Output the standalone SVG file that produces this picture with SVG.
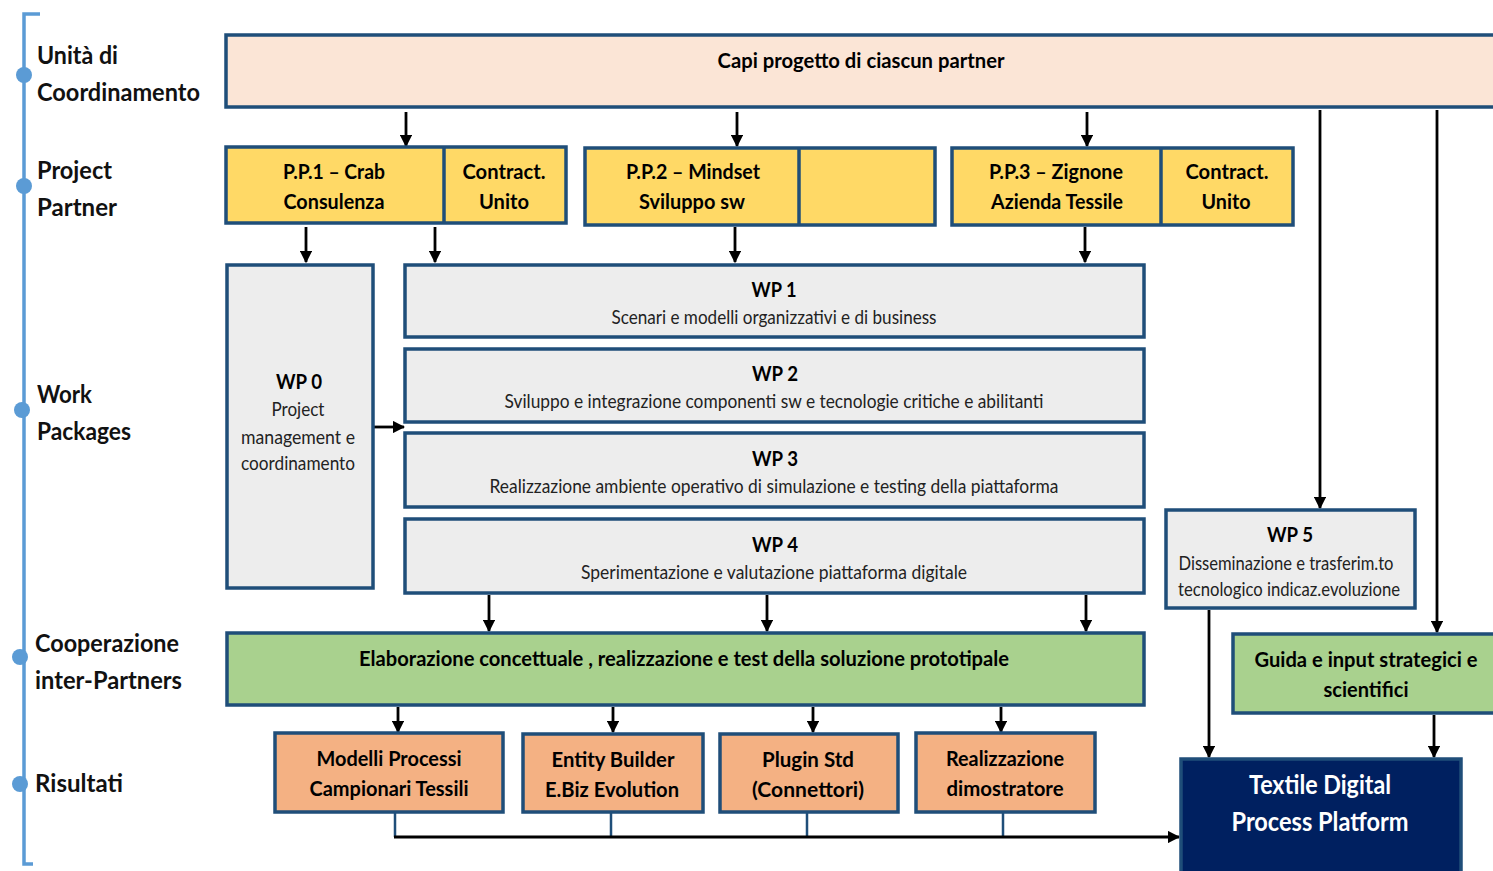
<svg xmlns="http://www.w3.org/2000/svg" width="1493" height="871" viewBox="0 0 1493 871">
<style>
text{font-family:Lato,"Open Sans","Liberation Sans",sans-serif;fill:#000;dominant-baseline:central;text-anchor:middle}
.side{font-size:25px;font-weight:700;text-anchor:start;fill:#111}
.b{font-size:21px;font-weight:700}
.s{font-size:19px;font-weight:400;fill:#222}
.box{stroke:#1f4e79;stroke-width:3.5}
.peach{fill:#fbe5d6}.yel{fill:#ffd966}.grey{fill:#ededed}.green{fill:#a9d18e}.orange{fill:#f4b183}.navy{fill:#002060}
.ar{stroke:#000;stroke-width:2.8;fill:none;marker-end:url(#ah)}
.bl{stroke:#1f4e79;stroke-width:2.5;fill:none}
</style>
<defs>
<marker id="ah" viewBox="0 0 10 10" refX="9" refY="5" markerWidth="4.4" markerHeight="4.4" orient="auto" markerUnits="strokeWidth">
<path d="M0,0 L10,5 L0,10 z" fill="#000"/>
</marker>
</defs>
<rect width="1493" height="871" fill="#fff"/>

<g id="sidebar">
<path d="M40,14 H24 V864 H33" stroke="#5b9bd5" stroke-width="3.5" fill="none"/>
<circle cx="24" cy="75" r="8" fill="#5b9bd5"/>
<circle cx="24" cy="186" r="8" fill="#5b9bd5"/>
<circle cx="22" cy="410" r="8" fill="#5b9bd5"/>
<circle cx="20" cy="657" r="8" fill="#5b9bd5"/>
<circle cx="20" cy="784" r="8" fill="#5b9bd5"/>
<text class="side" x="37" y="54" textLength="81" lengthAdjust="spacingAndGlyphs">Unità di</text>
<text class="side" x="37" y="91" textLength="163" lengthAdjust="spacingAndGlyphs">Coordinamento</text>
<text class="side" x="37" y="169" textLength="75" lengthAdjust="spacingAndGlyphs">Project</text>
<text class="side" x="37" y="206" textLength="80" lengthAdjust="spacingAndGlyphs">Partner</text>
<text class="side" x="37" y="393" textLength="55" lengthAdjust="spacingAndGlyphs">Work</text>
<text class="side" x="37" y="430" textLength="94" lengthAdjust="spacingAndGlyphs">Packages</text>
<text class="side" x="35" y="642" textLength="144" lengthAdjust="spacingAndGlyphs">Cooperazione</text>
<text class="side" x="35" y="679" textLength="147" lengthAdjust="spacingAndGlyphs">inter-Partners</text>
<text class="side" x="35" y="782" textLength="88" lengthAdjust="spacingAndGlyphs">Risultati</text>
</g>

<g id="connectors">
<path class="ar" d="M406,112 V146"/>
<path class="ar" d="M737,112 V146"/>
<path class="ar" d="M1087,112 V146"/>
<path class="ar" d="M1320,110 V508"/>
<path class="ar" d="M1437,110 V632"/>
<path class="ar" d="M306,227 V262"/>
<path class="ar" d="M435,227 V262"/>
<path class="ar" d="M735,227 V262"/>
<path class="ar" d="M1085,227 V262"/>
<path class="ar" d="M373,427 H404"/>
<path class="ar" d="M489,595 V631"/>
<path class="ar" d="M767,595 V631"/>
<path class="ar" d="M1086,595 V631"/>
<path class="ar" d="M398,707 V732"/>
<path class="ar" d="M613,707 V732"/>
<path class="ar" d="M813,707 V732"/>
<path class="ar" d="M1001,707 V732"/>
<path class="ar" d="M1209,610 V757"/>
<path class="ar" d="M1434,715 V757"/>
<path class="bl" d="M395,813 V837 M611,813 V837 M807,813 V837 M1003,813 V837"/>
<path class="ar" d="M394,837 H1179"/>
</g>

<g id="capi">
<rect class="box peach" x="226" y="35" width="1280" height="72"/>
<text class="b" x="861" y="59" textLength="287" lengthAdjust="spacingAndGlyphs">Capi progetto di ciascun partner</text>
</g>

<g id="pp1">
<rect class="box yel" x="226" y="147" width="340" height="76"/>
<line class="box" x1="444" y1="147" x2="444" y2="223"/>
<text class="b" x="334" y="170" textLength="102" lengthAdjust="spacingAndGlyphs">P.P.1 – Crab</text>
<text class="b" x="334" y="200" textLength="101" lengthAdjust="spacingAndGlyphs">Consulenza</text>
<text class="b" x="504" y="170" textLength="83" lengthAdjust="spacingAndGlyphs">Contract.</text>
<text class="b" x="504" y="200" textLength="50" lengthAdjust="spacingAndGlyphs">Unito</text>
</g>

<g id="pp2">
<rect class="box yel" x="585" y="148" width="350" height="77"/>
<line class="box" x1="799" y1="148" x2="799" y2="225"/>
<text class="b" x="693" y="170" textLength="134" lengthAdjust="spacingAndGlyphs">P.P.2 – Mindset</text>
<text class="b" x="692" y="200" textLength="106" lengthAdjust="spacingAndGlyphs">Sviluppo sw</text>
</g>

<g id="pp3">
<rect class="box yel" x="952" y="148" width="341" height="77"/>
<line class="box" x1="1161" y1="148" x2="1161" y2="225"/>
<text class="b" x="1056" y="170" textLength="134" lengthAdjust="spacingAndGlyphs">P.P.3 – Zignone</text>
<text class="b" x="1057" y="200" textLength="132" lengthAdjust="spacingAndGlyphs">Azienda Tessile</text>
<text class="b" x="1227" y="170" textLength="83" lengthAdjust="spacingAndGlyphs">Contract.</text>
<text class="b" x="1226" y="200" textLength="49" lengthAdjust="spacingAndGlyphs">Unito</text>
</g>

<g id="wp0">
<rect class="box grey" x="227" y="265" width="146" height="323"/>
<text class="b" x="299" y="380" textLength="46" lengthAdjust="spacingAndGlyphs">WP 0</text>
<text class="s" x="298" y="408" textLength="53" lengthAdjust="spacingAndGlyphs">Project</text>
<text class="s" x="298" y="436" textLength="114" lengthAdjust="spacingAndGlyphs">management e</text>
<text class="s" x="298" y="462" textLength="114" lengthAdjust="spacingAndGlyphs">coordinamento</text>
</g>

<g id="wp1">
<rect class="box grey" x="405" y="265" width="739" height="72"/>
<text class="b" x="774" y="288" textLength="45" lengthAdjust="spacingAndGlyphs">WP 1</text>
<text class="s" x="774" y="316" textLength="325" lengthAdjust="spacingAndGlyphs">Scenari e modelli organizzativi e di business</text>
</g>

<g id="wp2">
<rect class="box grey" x="405" y="349" width="739" height="73"/>
<text class="b" x="775" y="372" textLength="46" lengthAdjust="spacingAndGlyphs">WP 2</text>
<text class="s" x="774" y="400" textLength="539" lengthAdjust="spacingAndGlyphs">Sviluppo  e integrazione componenti sw e tecnologie critiche e abilitanti</text>
</g>

<g id="wp3">
<rect class="box grey" x="405" y="433" width="739" height="74"/>
<text class="b" x="775" y="457" textLength="46" lengthAdjust="spacingAndGlyphs">WP 3</text>
<text class="s" x="774" y="485" textLength="569" lengthAdjust="spacingAndGlyphs">Realizzazione ambiente operativo di simulazione e testing della piattaforma</text>
</g>

<g id="wp4">
<rect class="box grey" x="405" y="519" width="739" height="74"/>
<text class="b" x="775" y="543" textLength="46" lengthAdjust="spacingAndGlyphs">WP 4</text>
<text class="s" x="774" y="571" textLength="386" lengthAdjust="spacingAndGlyphs">Sperimentazione e valutazione piattaforma digitale</text>
</g>

<g id="wp5">
<rect class="box grey" x="1166" y="510" width="249" height="98"/>
<text class="b" x="1290" y="533" textLength="46" lengthAdjust="spacingAndGlyphs">WP 5</text>
<text class="s" x="1286" y="562" textLength="215" lengthAdjust="spacingAndGlyphs">Disseminazione e trasferim.to</text>
<text class="s" x="1289" y="588" textLength="222" lengthAdjust="spacingAndGlyphs">tecnologico indicaz.evoluzione</text>
</g>

<g id="coop">
<rect class="box green" x="227" y="633" width="917" height="72"/>
<text class="b" x="684" y="657" textLength="650" lengthAdjust="spacingAndGlyphs">Elaborazione concettuale , realizzazione e test della soluzione prototipale</text>
</g>

<g id="guida">
<rect class="box green" x="1233" y="634" width="280" height="79"/>
<text class="b" x="1366" y="658" textLength="223" lengthAdjust="spacingAndGlyphs">Guida e input strategici e</text>
<text class="b" x="1366" y="688" textLength="85" lengthAdjust="spacingAndGlyphs">scientifici</text>
</g>

<g id="res1">
<rect class="box orange" x="275" y="733" width="228" height="79"/>
<text class="b" x="389" y="757" textLength="145" lengthAdjust="spacingAndGlyphs">Modelli Processi</text>
<text class="b" x="389" y="787" textLength="159" lengthAdjust="spacingAndGlyphs">Campionari Tessili</text>
</g>

<g id="res2">
<rect class="box orange" x="523" y="734" width="180" height="78"/>
<text class="b" x="613" y="758" textLength="123" lengthAdjust="spacingAndGlyphs">Entity Builder</text>
<text class="b" x="612" y="788" textLength="134" lengthAdjust="spacingAndGlyphs">E.Biz Evolution</text>
</g>

<g id="res3">
<rect class="box orange" x="720" y="734" width="178" height="78"/>
<text class="b" x="808" y="758" textLength="92" lengthAdjust="spacingAndGlyphs">Plugin Std</text>
<text class="b" x="808" y="788" textLength="112" lengthAdjust="spacingAndGlyphs">(Connettori)</text>
</g>

<g id="res4">
<rect class="box orange" x="916" y="733" width="179" height="79"/>
<text class="b" x="1005" y="757" textLength="118" lengthAdjust="spacingAndGlyphs">Realizzazione</text>
<text class="b" x="1005" y="787" textLength="117" lengthAdjust="spacingAndGlyphs">dimostratore</text>
</g>

<g id="textile">
<rect class="box navy" x="1181" y="759" width="280" height="130"/>
<text class="b" x="1320" y="784" style="fill:#fff;font-size:26px" textLength="142" lengthAdjust="spacingAndGlyphs">Textile Digital</text>
<text class="b" x="1320" y="821" style="fill:#fff;font-size:26px" textLength="177" lengthAdjust="spacingAndGlyphs">Process Platform</text>
</g>
</svg>
